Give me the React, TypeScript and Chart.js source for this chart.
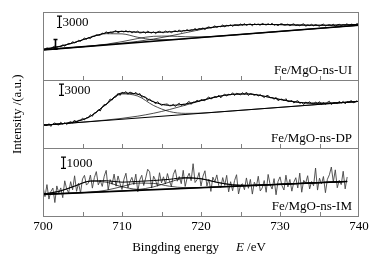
import React, { useEffect, useRef } from 'react';
import { Chart, registerables } from 'chart.js';
Chart.register(...registerables);

// ---------- axis ----------
const X_MIN = 700;
const X_MAX = 740;
const X_TICK_LABELS = [700, 710, 720, 730, 740];
const MINOR_TICKS = [705, 710, 715, 720, 725, 730, 735];

// ---------- energies (eV) ----------
const E_SCAN = [
  700, 700.25, 700.5, 700.75, 701, 701.25, 701.5, 701.75,
  702, 702.25, 702.5, 702.75, 703, 703.25, 703.5, 703.75,
  704, 704.25, 704.5, 704.75, 705, 705.25, 705.5, 705.75,
  706, 706.25, 706.5, 706.75, 707, 707.25, 707.5, 707.75,
  708, 708.25, 708.5, 708.75, 709, 709.25, 709.5, 709.75,
  710, 710.25, 710.5, 710.75, 711, 711.25, 711.5, 711.75,
  712, 712.25, 712.5, 712.75, 713, 713.25, 713.5, 713.75,
  714, 714.25, 714.5, 714.75, 715, 715.25, 715.5, 715.75,
  716, 716.25, 716.5, 716.75, 717, 717.25, 717.5, 717.75,
  718, 718.25, 718.5, 718.75, 719, 719.25, 719.5, 719.75,
  720, 720.25, 720.5, 720.75, 721, 721.25, 721.5, 721.75,
  722, 722.25, 722.5, 722.75, 723, 723.25, 723.5, 723.75,
  724, 724.25, 724.5, 724.75, 725, 725.25, 725.5, 725.75,
  726, 726.25, 726.5, 726.75, 727, 727.25, 727.5, 727.75,
  728, 728.25, 728.5, 728.75, 729, 729.25, 729.5, 729.75,
  730, 730.25, 730.5, 730.75, 731, 731.25, 731.5, 731.75,
  732, 732.25, 732.5, 732.75, 733, 733.25, 733.5, 733.75,
  734, 734.25, 734.5, 734.75, 735, 735.25, 735.5, 735.75,
  736, 736.25, 736.5, 736.75, 737, 737.25, 737.5, 737.75,
  738, 738.25, 738.5, 738.75, 739, 739.25, 739.5, 739.75,
  740,
];
const E_SCAN_IM = [
  700, 700.25, 700.5, 700.75, 701, 701.25, 701.5, 701.75,
  702, 702.25, 702.5, 702.75, 703, 703.25, 703.5, 703.75,
  704, 704.25, 704.5, 704.75, 705, 705.25, 705.5, 705.75,
  706, 706.25, 706.5, 706.75, 707, 707.25, 707.5, 707.75,
  708, 708.25, 708.5, 708.75, 709, 709.25, 709.5, 709.75,
  710, 710.25, 710.5, 710.75, 711, 711.25, 711.5, 711.75,
  712, 712.25, 712.5, 712.75, 713, 713.25, 713.5, 713.75,
  714, 714.25, 714.5, 714.75, 715, 715.25, 715.5, 715.75,
  716, 716.25, 716.5, 716.75, 717, 717.25, 717.5, 717.75,
  718, 718.25, 718.5, 718.75, 719, 719.25, 719.5, 719.75,
  720, 720.25, 720.5, 720.75, 721, 721.25, 721.5, 721.75,
  722, 722.25, 722.5, 722.75, 723, 723.25, 723.5, 723.75,
  724, 724.25, 724.5, 724.75, 725, 725.25, 725.5, 725.75,
  726, 726.25, 726.5, 726.75, 727, 727.25, 727.5, 727.75,
  728, 728.25, 728.5, 728.75, 729, 729.25, 729.5, 729.75,
  730, 730.25, 730.5, 730.75, 731, 731.25, 731.5, 731.75,
  732, 732.25, 732.5, 732.75, 733, 733.25, 733.5, 733.75,
  734, 734.25, 734.5, 734.75, 735, 735.25, 735.5, 735.75,
  736, 736.25, 736.5, 736.75, 737, 737.25, 737.5, 737.75,
  738, 738.25, 738.5,
];
const E_FIT = [700, 702, 704, 706, 708, 710, 712, 714, 716, 718, 720, 722, 724, 726, 728, 730, 732, 734, 736, 738, 740];
const E_FIT_IM = [700, 702, 704, 706, 708, 710, 712, 714, 716, 718, 720, 722, 724, 726, 728, 730, 732, 734, 736, 738, 738.5];
const E_LINE = [700, 740];
const E_LINE_IM = [700, 738.5];

// ---------- Fe/MgO-ns-UI (counts) ----------
const UI_DATA = [
  8260, 8095, 8533, 8371, 8259, 8747, 8985, 8673,
  8910, 8798, 9386, 8974, 9412, 9700, 9588, 10176,
  9812, 10081, 10500, 10219, 10738, 11107, 10776, 11195,
  10966, 11613, 11610, 12007, 11804, 11901, 12398, 12295,
  12795, 12294, 12693, 12442, 12841, 13090, 12489, 12838,
  12938, 12709, 13080, 12701, 12972, 12443, 12814, 12635,
  12956, 12448, 12540, 12782, 12374, 12966, 12608, 12450,
  12795, 12265, 12735, 12905, 12625, 12495, 13015, 12635,
  12901, 12538, 12875, 13062, 12749, 13286, 12673, 13110,
  13048, 13361, 12974, 13287, 13200, 13663, 13176, 13639,
  13500, 13821, 13342, 13863, 14084, 13755, 13976, 14347,
  13918, 14214, 14110, 14606, 14052, 14498, 14344, 14640,
  14190, 14614, 14538, 14412, 14836, 14510, 14934, 14458,
  14735, 14840, 14345, 14900, 14655, 14810, 14463, 15017,
  14721, 14563, 14906, 14598, 15041, 14483, 14726, 14368,
  14811, 14900, 14538, 14576, 14814, 14353, 14691, 14880,
  14418, 14560, 14351, 14693, 14885, 14226, 14568, 14410,
  14751, 14351, 14700, 14450, 14250, 14599, 14799, 14298,
  14498, 14658, 14418, 14777, 14187, 14597, 14757, 14416,
  14676, 14545, 14915, 14384, 14804, 14673, 14492, 14962,
  14631,
];
const UI_BASE = [8000, 14500];
const UI_ENV = [8157, 8860, 9962, 11316, 12495, 12888, 12656, 12595, 12751, 13048, 13550, 14118, 14490, 14685, 14721, 14661, 14568, 14501, 14498, 14576, 14731];
const UI_C1 = [8157, 8860, 9962, 11300, 12270, 12225, 11325, 10710, 10684, 10935, 11250, 11575, 11900, 12225, 12550, 12875, 13200, 13525, 13850, 14175, 14500];
const UI_C2 = [8000, 8325, 8650, 8975, 9476, 10160, 10990, 11575, 11640, 11460, 11426, 11612, 11900, 12225, 12550, 12875, 13200, 13525, 13850, 14175, 14500];
const UI_C3 = [8000, 8325, 8650, 8991, 9349, 9753, 10241, 10860, 11627, 12503, 13374, 14081, 14490, 14685, 14721, 14661, 14568, 14501, 14498, 14576, 14731];

// ---------- Fe/MgO-ns-DP (counts) ----------
const DP_DATA = [
  6590, 6140, 5970, 6500, 5770, 6440, 6690, 6307,
  6134, 6875, 6360, 6765, 6270, 6765, 7060, 6665,
  7467, 6685, 7390, 7420, 7950, 7515, 8070, 8080,
  8875, 8440, 9360, 9450, 10180, 9850, 10940, 11590,
  11461, 12150, 13020, 12730, 13470, 13580, 14490, 13960,
  14798, 14590, 14980, 14290, 14840, 14640, 14340, 14780,
  14146, 14470, 13520, 13620, 13510, 12530, 13030, 12420,
  12390, 11720, 12320, 11750, 11340, 11580, 11630, 11710,
  11188, 11250, 11610, 11020, 11560, 11895, 11320, 11600,
  11392, 11995, 12390, 11605, 12220, 12125, 12730, 12285,
  12892, 12685, 12550, 13165, 13570, 12985, 13380, 13695,
  13450, 14045, 13310, 13960, 14260, 13845, 14270, 14120,
  14673, 13935, 14530, 14335, 14070, 14705, 14220, 14840,
  13924, 14440, 14250, 13970, 14250, 13815, 14220, 13775,
  13398, 13860, 13970, 13300, 13400, 12940, 13460, 12580,
  12895, 13010, 12560, 13105, 12320, 12380, 12650, 11945,
  12361, 12585, 11830, 12135, 11530, 12200, 11960, 12285,
  11772, 11690, 12170, 11820, 12310, 11545, 12040, 11630,
  12130, 12430, 11540, 11980, 12070, 11820, 12410, 11945,
  12394, 11725, 12320, 12145, 12670, 12005, 12180, 12565,
  12040,
];
const DP_BASE = [6100, 12380];
const DP_ENV = [6100, 6414, 6977, 8455, 11671, 14588, 14286, 12250, 11328, 11672, 12612, 13590, 14253, 14344, 13748, 12895, 12221, 11912, 11920, 12114, 12390];
const DP_C1 = [6100, 6414, 6964, 8417, 11571, 14350, 13784, 11298, 9712, 9226, 9290, 9554, 9868, 10182, 10496, 10810, 11124, 11438, 11752, 12066, 12380];
const DP_C2 = [6100, 6414, 6741, 7080, 7456, 7908, 8486, 9250, 10228, 11372, 12562, 13590, 14253, 14344, 13748, 12895, 12221, 11912, 11920, 12114, 12390];

// ---------- Fe/MgO-ns-IM (counts) ----------
const IM_DATA = [
  2624, 1737, 2800, 1525, 2200, 2490, 1220, 2683,
  2067, 2508, 1650, 3135, 2410, 2085, 3060, 2342,
  3575, 2208, 2920, 2070, 3300, 3615, 2760, 2940,
  3640, 2490, 3420, 3945, 2780, 3165, 2640, 3540,
  4051, 2345, 3240, 2832, 3725, 2667, 3560, 2897,
  2365, 3277, 3800, 2510, 3040, 3440, 2800, 3720,
  2171, 3220, 3620, 2720, 3380, 4150, 3920, 2498,
  3546, 3168, 2660, 3845, 2950, 3485, 2850, 3771,
  3132, 2636, 3700, 4115, 3100, 3510, 2880, 4058,
  2636, 3413, 3800, 3140, 4640, 2985, 3230, 3860,
  2669, 3540, 4020, 2675, 3280, 2200, 3460, 3037,
  3653, 2707, 2540, 3415, 2730, 3615, 2160, 3055,
  2261, 3160, 3670, 1972, 2745, 2871, 2348, 3386,
  2475, 3260, 1965, 3008, 2622, 3536, 2240, 2504,
  3159, 2126, 3694, 2791, 2409, 3326, 1903, 3081,
  3478, 2705, 2323, 3630, 2598, 3255, 2222, 3010,
  3407, 2505, 3812, 2129, 3177, 2924, 3582, 2419,
  3076, 2694, 4261, 2319, 3366, 2853, 3511, 2088,
  3266, 3663, 4350, 3028, 4100, 2523, 3180, 2797,
  3975, 2422, 3470,
];
const IM_BASE = [1940, 3080];
const IM_ENV = [1974, 2197, 2665, 3120, 3141, 3015, 3081, 3156, 3262, 3416, 3319, 3003, 2781, 2735, 2769, 2828, 2887, 2946, 3006, 3065, 3080];
const IM_CA = [1974, 2197, 2665, 3098, 3012, 2611, 2384, 2365, 2414, 2473, 2532, 2591, 2650, 2710, 2769, 2828, 2887, 2946, 3006, 3065, 3080];
const IM_CB = [1940, 1999, 2058, 2140, 2306, 2631, 2932, 2903, 2658, 2531, 2539, 2591, 2650, 2710, 2769, 2828, 2887, 2946, 3006, 3065, 3080];
const IM_CC = [1940, 1999, 2058, 2118, 2177, 2245, 2356, 2602, 3018, 3359, 3312, 3003, 2781, 2735, 2769, 2828, 2887, 2946, 3006, 3065, 3080];

// ---------- panel annotations ----------
const PANELS = [
  { axis: 'yUI', max: 18000, name: 'Fe/MgO-ns-UI', barAt: 702.0, barFrom: 13900, barTo: 16900, barText: '3000' },
  { axis: 'yDP', max: 18000, name: 'Fe/MgO-ns-DP', barAt: 702.3, barFrom: 13950, barTo: 16950, barText: '3000' },
  { axis: 'yIM', max: 6000, name: 'Fe/MgO-ns-IM', barAt: 702.5, barFrom: 4225, barTo: 5225, barText: '1000' },
];
const UI_MARK = { at: 701.5, from: 8150, to: 10750 };

const SERIF = '"Liberation Serif", "Times New Roman", serif';

function pts(xs: number[], ys: number[]) {
  return xs.map((x, i) => ({ x, y: ys[i] }));
}
function fitLine(axis: string, xs: number[], ys: number[], width: number) {
  return {
    data: pts(xs, ys), yAxisID: axis, borderColor: '#000', borderWidth: width,
    pointRadius: 0, fill: false, cubicInterpolationMode: 'monotone' as const,
  };
}
function scanLine(axis: string, xs: number[], ys: number[], color: string, width: number) {
  return {
    data: pts(xs, ys), yAxisID: axis, borderColor: color, borderWidth: width,
    pointRadius: 0, fill: false, tension: 0,
  };
}

function drawIBeam(ctx: CanvasRenderingContext2D, x: number, y1: number, y2: number, half: number, lw: number) {
  ctx.lineWidth = lw;
  ctx.beginPath();
  ctx.moveTo(x, y1); ctx.lineTo(x, y2);
  ctx.moveTo(x - half, y1); ctx.lineTo(x + half, y1);
  ctx.moveTo(x - half, y2); ctx.lineTo(x + half, y2);
  ctx.stroke();
}

const panelPlugin = {
  id: 'panelDecor',
  afterDraw(chart: any) {
    const { ctx, chartArea, scales } = chart;
    const xs = scales.x;
    ctx.save();
    PANELS.forEach((p) => {
      const ys = scales[p.axis];
      ctx.strokeStyle = '#808080';
      ctx.lineWidth = 1;
      ctx.strokeRect(chartArea.left + 0.5, Math.round(ys.top) + 0.5, chartArea.right - chartArea.left - 1, Math.round(ys.bottom) - Math.round(ys.top));
      MINOR_TICKS.forEach((v) => {
        const px = Math.round(xs.getPixelForValue(v)) + 0.5;
        ctx.beginPath();
        ctx.moveTo(px, Math.round(ys.bottom));
        ctx.lineTo(px, Math.round(ys.bottom) - 4);
        ctx.stroke();
      });
      ctx.strokeStyle = '#000';
      const bx = Math.round(xs.getPixelForValue(p.barAt)) + 0.5;
      const b1 = ys.getPixelForValue(p.barFrom);
      const b2 = ys.getPixelForValue(p.barTo);
      drawIBeam(ctx, bx, b1, b2, 2.5, 1.2);
      ctx.fillStyle = '#000';
      ctx.font = `13px ${SERIF}`;
      ctx.textAlign = 'left';
      ctx.textBaseline = 'middle';
      ctx.fillText(p.barText, bx + 3, (b1 + b2) / 2 + 0.5);
      ctx.textAlign = 'right';
      ctx.fillText(p.name, chartArea.right - 7, ys.bottom - 10);
    });
    const yui = scales.yUI;
    ctx.strokeStyle = '#000';
    drawIBeam(ctx, Math.round(xs.getPixelForValue(UI_MARK.at)) + 0.5, yui.getPixelForValue(UI_MARK.from), yui.getPixelForValue(UI_MARK.to), 2, 1.6);
    ctx.save();
    ctx.translate(18, (chartArea.top + chartArea.bottom) / 2);
    ctx.rotate(-Math.PI / 2);
    ctx.textAlign = 'center';
    ctx.textBaseline = 'middle';
    ctx.font = `13px ${SERIF}`;
    ctx.fillStyle = '#000';
    ctx.fillText('Intensity /(a.u.)', 0, 0);
    ctx.restore();
    ctx.font = `13px ${SERIF}`;
    const t1 = 'Bingding energy';
    const gap = 17;
    const w1 = ctx.measureText(t1).width;
    ctx.font = `italic 13px ${SERIF}`;
    const wE = ctx.measureText('E').width;
    ctx.font = `13px ${SERIF}`;
    const w3 = ctx.measureText(' /eV').width;
    const total = w1 + gap + wE + w3;
    let x0 = (chartArea.left + chartArea.right) / 2 - total / 2 - 2;
    const yb = 251;
    ctx.textAlign = 'left';
    ctx.textBaseline = 'alphabetic';
    ctx.fillStyle = '#000';
    ctx.fillText(t1, x0, yb);
    x0 += w1 + gap;
    ctx.font = `italic 13px ${SERIF}`;
    ctx.fillText('E', x0, yb);
    x0 += wE;
    ctx.font = `13px ${SERIF}`;
    ctx.fillText(' /eV', x0, yb);
    ctx.restore();
  },
};

export default function App() {
  const ref = useRef<HTMLCanvasElement>(null);
  useEffect(() => {
    const yAxis = (max: number, weight: number) => ({
      type: 'linear' as const, min: 0, max, stack: 'panels', stackWeight: 1, weight,
      display: false,
    });
    const chart = new Chart(ref.current as HTMLCanvasElement, {
      type: 'line',
      data: {
        datasets: [
          fitLine('yUI', E_LINE, UI_BASE, 1.6),
          fitLine('yUI', E_FIT, UI_ENV, 1),
          fitLine('yUI', E_FIT, UI_C1, 0.7),
          fitLine('yUI', E_FIT, UI_C2, 0.7),
          fitLine('yUI', E_FIT, UI_C3, 0.7),
          scanLine('yUI', E_SCAN, UI_DATA, '#222', 1),
          fitLine('yDP', E_LINE, DP_BASE, 1),
          fitLine('yDP', E_FIT, DP_ENV, 1),
          fitLine('yDP', E_FIT, DP_C1, 0.7),
          fitLine('yDP', E_FIT, DP_C2, 0.7),
          scanLine('yDP', E_SCAN, DP_DATA, '#222', 1),
          fitLine('yIM', E_LINE_IM, IM_BASE, 1.6),
          fitLine('yIM', E_FIT_IM, IM_ENV, 1),
          fitLine('yIM', E_FIT_IM, IM_CA, 0.7),
          fitLine('yIM', E_FIT_IM, IM_CB, 0.7),
          fitLine('yIM', E_FIT_IM, IM_CC, 0.7),
          scanLine('yIM', E_SCAN_IM, IM_DATA, '#444', 0.9),
        ] as any,
      },
      options: {
        animation: false,
        responsive: true,
        maintainAspectRatio: false,
        layout: { padding: { left: 43, right: 18, top: 12, bottom: 28 } },
        plugins: { legend: { display: false }, tooltip: { enabled: false } },
        elements: { point: { radius: 0 } },
        scales: {
          x: {
            type: 'linear', min: X_MIN, max: X_MAX, position: 'bottom',
            grid: { display: false, drawTicks: false },
            border: { display: false },
            ticks: {
              stepSize: 10, padding: 2, color: '#000',
              font: { family: SERIF, size: 13 },
              callback: (v: any) => (X_TICK_LABELS.includes(Number(v)) ? String(v) : ''),
            },
          },
          yIM: yAxis(6000, 1),
          yDP: yAxis(18000, 2),
          yUI: yAxis(18000, 3),
        } as any,
      },
      plugins: [panelPlugin],
    });
    return () => chart.destroy();
  }, []);
  return (
    <div style={{ position: 'fixed', left: 0, top: 0, width: 377, height: 264, background: '#fff' }}>
      <canvas ref={ref} />
    </div>
  );
}
